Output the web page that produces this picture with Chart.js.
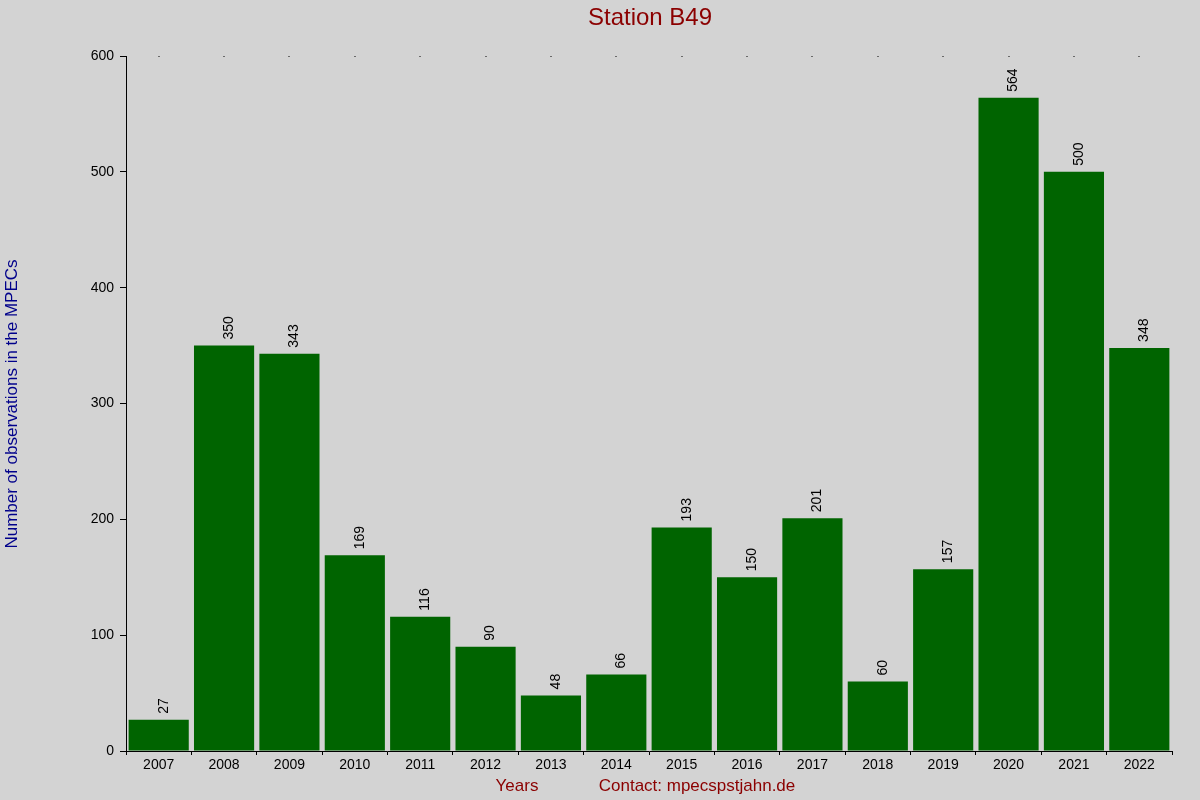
<!DOCTYPE html>
<html><head><meta charset="utf-8">
<script src="https://cdn.jsdelivr.net/npm/chart.js@4"></script>
<style>html,body{margin:0;padding:0;background:#d3d3d3;}#w{width:1200px;height:800px;}</style>
</head><body><div id="w"><canvas id="c" width="1200" height="800"></canvas></div>
<script>
const categories = ['2007','2008','2009','2010','2011','2012','2013','2014','2015','2016','2017','2018','2019','2020','2021','2022'];
const observations = [27,350,343,169,116,90,48,66,193,150,201,60,157,564,500,348];
const yTicks = [0,100,200,300,400,500,600];

const deco = {
  id:'deco',
  afterDatasetsDraw(chart){
    const ctx = chart.ctx, x = chart.scales.x, y = chart.scales.y, meta = chart.getDatasetMeta(0);
    ctx.save();
    ctx.fillStyle = '#000';
    ctx.font = '14px "Liberation Sans", Arial, sans-serif';
    meta.data.forEach((b,i)=>{
      ctx.save();
      ctx.translate(b.x+5, b.y-6);
      ctx.rotate(-Math.PI/2);
      ctx.textAlign='left'; ctx.textBaseline='middle';
      ctx.fillText(String(observations[i]),0,0);
      ctx.restore();
      ctx.fillRect(Math.round(b.x)-0.5, y.top, 1, 1);
    });
    ctx.fillStyle='#8b0000';
    ctx.font = '24px "Liberation Sans", Arial, sans-serif';
    ctx.textAlign='center'; ctx.textBaseline='middle';
    ctx.fillText('Station B49', 650, 18);
    ctx.font = '17px "Liberation Sans", Arial, sans-serif';
    ctx.fillText('Years', 517, 786);
    ctx.fillText('Contact: mpecspstjahn.de', 697, 786);
    ctx.fillStyle='#00008b';
    ctx.translate(12, 404); ctx.rotate(-Math.PI/2);
    ctx.fillText('Number of observations in the MPECs',0,0);
    ctx.restore();
  }
};

new Chart(document.getElementById('c'), {
  type:'bar',
  data:{labels:categories, datasets:[{data:observations, backgroundColor:'#006400', borderWidth:0, barPercentage:0.92, categoryPercentage:1}]},
  options:{
    responsive:false, animation:false, devicePixelRatio:1,
    layout:{padding:{left:0,right:28,top:56,bottom:0}},
    plugins:{legend:{display:false}, tooltip:{enabled:false}},
    scales:{
      x:{grid:{display:true,drawOnChartArea:false,tickLength:4,color:'#000'},border:{color:'#000'},
         ticks:{color:'#000',font:{size:14,family:'"Liberation Sans", Arial'},padding:2,maxRotation:0},
         afterFit(s){s.height=49;}},
      y:{min:0,max:600,grid:{drawOnChartArea:false,tickLength:6,color:'#000'},border:{color:'#000'},
         afterBuildTicks(s){s.ticks=yTicks.map(v=>({value:v}));},
         ticks:{color:'#000',font:{size:14,family:'"Liberation Sans", Arial'},padding:6},
         afterFit(s){s.width=126;}}
    }
  },
  plugins:[deco]
});
</script></body></html>
